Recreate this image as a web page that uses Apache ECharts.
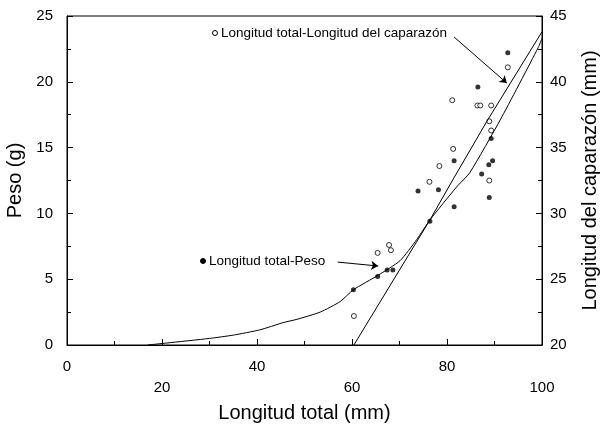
<!DOCTYPE html>
<html>
<head>
<meta charset="utf-8">
<script src="https://cdn.jsdelivr.net/npm/echarts/dist/echarts.min.js"></script>
<style>
  html, body { margin: 0; padding: 0; background: #fff; }
  #myChart { width: 602px; height: 425px; }
</style>
</head>
<body>
<div id="myChart"></div>
<script>
// puntos Longitud total - Peso (eje izquierdo)
const pesoLongitud = [60.3, 65.4, 67.4, 68.6, 73.9, 76.4, 78.2, 81.5, 81.5, 86.5, 87.3, 88.8, 89.6, 89.3, 88.9, 92.8]
const peso = [4.2, 5.2, 5.7, 5.7, 11.7, 9.4, 11.8, 14.0, 10.5, 19.6, 13.0, 13.7, 14.0, 15.7, 11.2, 22.2]
// puntos Longitud total - Longitud del caparazón (eje derecho)
const capLongitud = [60.4, 65.4, 67.8, 68.2, 76.3, 78.4, 81.3, 81.1, 86.4, 87.0, 89.3, 88.9, 89.3, 88.9, 92.8]
const caparazon = [22.2, 27.0, 27.6, 27.2, 32.4, 33.6, 34.9, 38.6, 38.2, 38.2, 38.2, 37.0, 36.3, 32.5, 41.1]
// curvas ajustadas
const curvaPesoX = [17, 21, 30, 35, 40.6, 45.5, 48.4, 53.3, 57.5, 60.3, 65.5, 70.1, 73.6, 76.4, 82, 84.8, 91.2, 99.2, 100]
const curvaPesoY = [0, 0.15, 0.5, 0.75, 1.15, 1.7, 1.95, 2.5, 3.3, 4.2, 5.3, 6.4, 8.0, 9.5, 12.0, 13.1, 17.1, 22.6, 23.3]
const rectaCapX = [60.4, 76.4, 81.3, 88.4, 100]
const rectaCapY = [20, 29.5, 32.6, 37.0, 43.8]

const xTicks = [0, 20, 40, 60, 80, 100]

const font = "'Liberation Sans', Arial, sans-serif"
const zip = (a, b) => a.map((v, i) => [v, b[i]])

let myChart = echarts.init(document.getElementById('myChart'))

const tickStyle = { color: '#000', width: 1 }

myChart.setOption({
  animation: false,
  textStyle: { fontFamily: font, color: '#000' },
  grid: {
    left: 67, right: 60, top: 16, bottom: 80,
    outerBoundsMode: 'none',
    containLabel: false,
    show: true, borderColor: '#000', borderWidth: 1
  },
  xAxis: {
    type: 'value',
    min: xTicks[0],
    max: xTicks[xTicks.length - 1],
    interval: 20,
    name: 'Longitud total (mm)',
    nameLocation: 'middle',
    nameGap: 58,
    nameTextStyle: { fontSize: 20, color: '#000', fontFamily: font },
    axisLine: { show: true, lineStyle: tickStyle },
    axisTick: { show: true, inside: true, length: 6, lineStyle: tickStyle },
    minorTick: { show: true, splitNumber: 2, length: 4, lineStyle: tickStyle },
    splitLine: { show: false },
    axisLabel: {
      fontSize: 15, color: '#000', margin: 11, lineHeight: 21, fontFamily: font,
      // etiquetas alternadas como en el original
      formatter: v => ((v / 20) % 2 === 1 ? '\n' + v : '' + v)
    }
  },
  yAxis: [
    {
      type: 'value',
      min: 0, max: 25, interval: 5,
      position: 'left',
      name: 'Peso (g)',
      nameLocation: 'middle',
      nameRotate: 90,
      nameGap: 42,
      nameTextStyle: { fontSize: 20, color: '#000', fontFamily: font },
      axisLine: { show: true, onZero: false, lineStyle: tickStyle },
      axisTick: { show: true, inside: true, length: 6, lineStyle: tickStyle },
      minorTick: { show: true, splitNumber: 2, length: 4, lineStyle: tickStyle },
      splitLine: { show: false },
      axisLabel: { fontSize: 15, color: '#000', margin: 14, fontFamily: font }
    },
    {
      type: 'value',
      min: 20, max: 45, interval: 5,
      position: 'right',
      name: 'Longitud del caparazón (mm)',
      nameLocation: 'middle',
      nameRotate: 90,
      nameGap: 38,
      nameTextStyle: { fontSize: 20, color: '#000', fontFamily: font },
      axisLine: { show: true, onZero: false, lineStyle: tickStyle },
      axisTick: { show: true, inside: true, length: 6, lineStyle: tickStyle },
      minorTick: { show: true, splitNumber: 2, length: 4, lineStyle: tickStyle },
      splitLine: { show: false },
      axisLabel: { fontSize: 15, color: '#000', margin: 8, fontFamily: font }
    }
  ],
  graphic: [
    { type: 'circle', shape: { cx: 215, cy: 33, r: 2.5 }, style: { fill: '#fff', stroke: '#000', lineWidth: 1 } },
    { type: 'text', x: 221, y: 33, style: { text: 'Longitud total-Longitud del caparazón', font: '13.5px ' + font, fill: '#000', verticalAlign: 'middle' } },
    { type: 'circle', shape: { cx: 203, cy: 261, r: 2.5 }, style: { fill: '#000', stroke: '#000', lineWidth: 1 } },
    { type: 'text', x: 209, y: 261, style: { text: 'Longitud total-Peso', font: '13.5px ' + font, fill: '#000', verticalAlign: 'middle' } }
  ],
  series: [
    {
      name: 'Curva peso',
      type: 'line',
      yAxisIndex: 0,
      data: zip(curvaPesoX, curvaPesoY),
      smooth: 0.2,
      showSymbol: false,
      lineStyle: { color: '#000', width: 1 },
      markLine: {
        silent: true,
        symbol: ['none', 'arrow'],
        symbolSize: 7,
        label: { show: false },
        lineStyle: { color: '#000', width: 1, type: 'solid' },
        data: [[{ coord: [57.0, 6.3] }, { coord: [65.5, 6.0] }]]
      }
    },
    {
      name: 'Recta caparazón',
      type: 'line',
      yAxisIndex: 1,
      data: zip(rectaCapX, rectaCapY),
      showSymbol: false,
      lineStyle: { color: '#000', width: 1 },
      markLine: {
        silent: true,
        symbol: ['none', 'arrow'],
        symbolSize: 7,
        label: { show: false },
        lineStyle: { color: '#000', width: 1, type: 'solid' },
        data: [[{ coord: [81.5, 43.4] }, { coord: [92.6, 39.9] }]]
      }
    },
    {
      name: 'Longitud total-Peso',
      type: 'scatter',
      yAxisIndex: 0,
      data: zip(pesoLongitud, peso),
      symbol: 'circle',
      symbolSize: 5,
      itemStyle: { color: '#000' }
    },
    {
      name: 'Longitud total-Longitud del caparazón',
      type: 'scatter',
      yAxisIndex: 1,
      data: zip(capLongitud, caparazon),
      symbol: 'circle',
      symbolSize: 5,
      itemStyle: { color: '#fff', borderColor: '#000', borderWidth: 1 }
    }
  ]
})
</script>
</body>
</html>
